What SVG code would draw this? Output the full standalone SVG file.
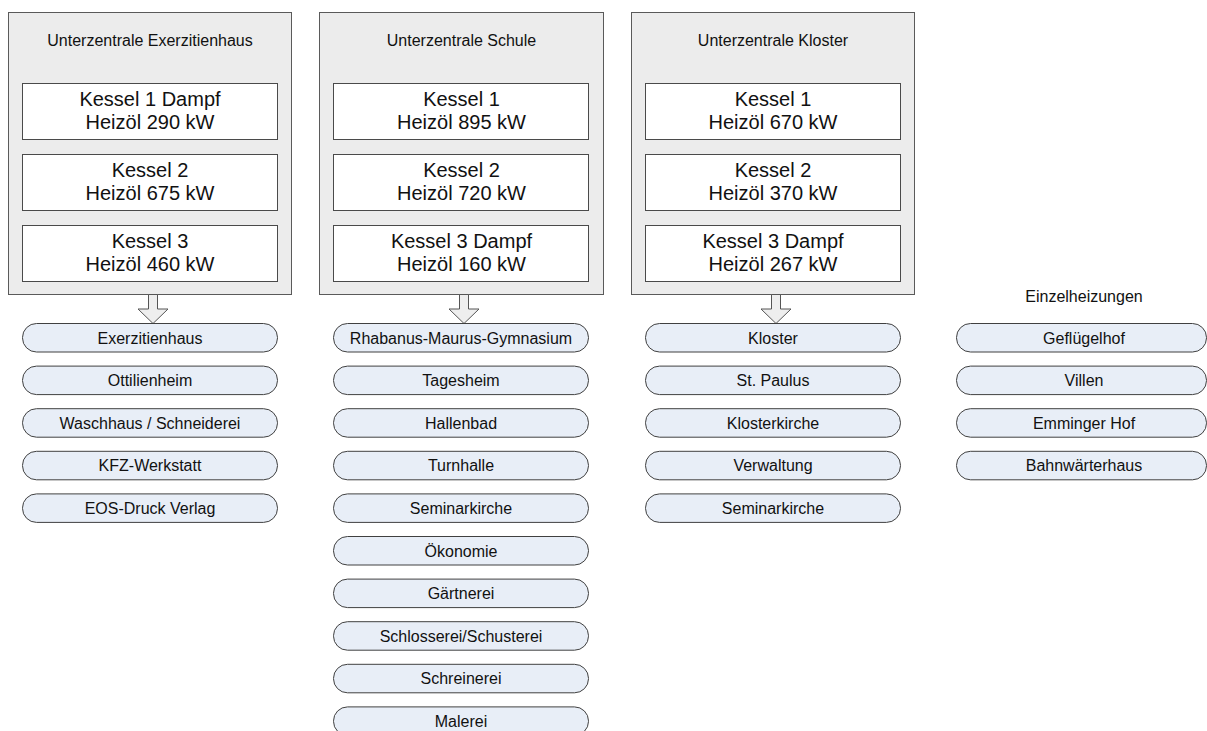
<svg xmlns="http://www.w3.org/2000/svg" width="1207" height="731" viewBox="0 0 1207 731">
<style>
.outer{fill:#ececec;stroke:#5a5a5a;stroke-width:1}
.kessel{fill:#ffffff;stroke:#4a4a4a;stroke-width:1}
.pill{fill:#e8eef7;stroke:#404040;stroke-width:1}
.arrow{fill:#eeeeee;stroke:#555555;stroke-width:1}
text{font-family:"Liberation Sans",Arial,sans-serif;fill:#111;text-anchor:middle}
.t16{font-size:16px}
.t20{font-size:20px}
</style>
<rect width="1207" height="731" fill="#ffffff"/>

<g id="unterzentrale-exerzitienhaus">
<rect class="outer" x="8.5" y="12.5" width="283" height="282"/>
<text class="t16" x="150" y="45.5">Unterzentrale Exerzitienhaus</text>
<rect class="kessel" x="22.5" y="83.5" width="255" height="56"/>
<text class="t20" x="150" y="106">Kessel 1 Dampf</text>
<text class="t20" x="150" y="129">Heizöl 290 kW</text>
<rect class="kessel" x="22.5" y="154.5" width="255" height="56"/>
<text class="t20" x="150" y="177">Kessel 2</text>
<text class="t20" x="150" y="200">Heizöl 675 kW</text>
<rect class="kessel" x="22.5" y="225.5" width="255" height="56"/>
<text class="t20" x="150" y="248">Kessel 3</text>
<text class="t20" x="150" y="271">Heizöl 460 kW</text>
</g>

<g id="unterzentrale-schule">
<rect class="outer" x="319.5" y="12.5" width="284" height="282"/>
<text class="t16" x="461.5" y="45.5">Unterzentrale Schule</text>
<rect class="kessel" x="333.5" y="83.5" width="255" height="56"/>
<text class="t20" x="461.5" y="106">Kessel 1</text>
<text class="t20" x="461.5" y="129">Heizöl 895 kW</text>
<rect class="kessel" x="333.5" y="154.5" width="255" height="56"/>
<text class="t20" x="461.5" y="177">Kessel 2</text>
<text class="t20" x="461.5" y="200">Heizöl 720 kW</text>
<rect class="kessel" x="333.5" y="225.5" width="255" height="56"/>
<text class="t20" x="461.5" y="248">Kessel 3 Dampf</text>
<text class="t20" x="461.5" y="271">Heizöl 160 kW</text>
</g>

<g id="unterzentrale-kloster">
<rect class="outer" x="631.5" y="12.5" width="283" height="282"/>
<text class="t16" x="773" y="45.5">Unterzentrale Kloster</text>
<rect class="kessel" x="645.5" y="83.5" width="255" height="56"/>
<text class="t20" x="773" y="106">Kessel 1</text>
<text class="t20" x="773" y="129">Heizöl 670 kW</text>
<rect class="kessel" x="645.5" y="154.5" width="255" height="56"/>
<text class="t20" x="773" y="177">Kessel 2</text>
<text class="t20" x="773" y="200">Heizöl 370 kW</text>
<rect class="kessel" x="645.5" y="225.5" width="255" height="56"/>
<text class="t20" x="773" y="248">Kessel 3 Dampf</text>
<text class="t20" x="773" y="271">Heizöl 267 kW</text>
</g>

<g id="connectors">
<path class="arrow" d="M148.5,294.5 L157.5,294.5 L157.5,309 L168,309 L153,323.5 L138,309 L148.5,309 Z"/>
<path class="arrow" d="M459.5,294.5 L468.5,294.5 L468.5,309 L479,309 L464,323.5 L449,309 L459.5,309 Z"/>
<path class="arrow" d="M771.5,294.5 L780.5,294.5 L780.5,309 L791,309 L776,323.5 L761,309 L771.5,309 Z"/>
</g>

<g id="verbraucher-exerzitienhaus">
<g id="p-exerzitienhaus"><rect class="pill" x="22.5" y="323.5" width="255" height="28.5" rx="14" ry="14"/><text class="t16" x="150" y="343.5">Exerzitienhaus</text></g>
<g id="p-ottilienheim"><rect class="pill" x="22.5" y="366.1" width="255" height="28.5" rx="14" ry="14"/><text class="t16" x="150" y="386.1">Ottilienheim</text></g>
<g id="p-waschhaus"><rect class="pill" x="22.5" y="408.7" width="255" height="28.5" rx="14" ry="14"/><text class="t16" x="150" y="428.7">Waschhaus / Schneiderei</text></g>
<g id="p-kfz"><rect class="pill" x="22.5" y="451.3" width="255" height="28.5" rx="14" ry="14"/><text class="t16" x="150" y="471.3">KFZ-Werkstatt</text></g>
<g id="p-eos"><rect class="pill" x="22.5" y="493.9" width="255" height="28.5" rx="14" ry="14"/><text class="t16" x="150" y="513.9">EOS-Druck Verlag</text></g>
</g>

<g id="verbraucher-schule">
<g id="p-rmg"><rect class="pill" x="333.5" y="323.5" width="255" height="28.5" rx="14" ry="14"/><text class="t16" x="461" y="343.5">Rhabanus-Maurus-Gymnasium</text></g>
<g id="p-tagesheim"><rect class="pill" x="333.5" y="366.1" width="255" height="28.5" rx="14" ry="14"/><text class="t16" x="461" y="386.1">Tagesheim</text></g>
<g id="p-hallenbad"><rect class="pill" x="333.5" y="408.7" width="255" height="28.5" rx="14" ry="14"/><text class="t16" x="461" y="428.7">Hallenbad</text></g>
<g id="p-turnhalle"><rect class="pill" x="333.5" y="451.3" width="255" height="28.5" rx="14" ry="14"/><text class="t16" x="461" y="471.3">Turnhalle</text></g>
<g id="p-seminarkirche-s"><rect class="pill" x="333.5" y="493.9" width="255" height="28.5" rx="14" ry="14"/><text class="t16" x="461" y="513.9">Seminarkirche</text></g>
<g id="p-oekonomie"><rect class="pill" x="333.5" y="536.5" width="255" height="28.5" rx="14" ry="14"/><text class="t16" x="461" y="556.5">Ökonomie</text></g>
<g id="p-gaertnerei"><rect class="pill" x="333.5" y="579.1" width="255" height="28.5" rx="14" ry="14"/><text class="t16" x="461" y="599.1">Gärtnerei</text></g>
<g id="p-schlosserei"><rect class="pill" x="333.5" y="621.7" width="255" height="28.5" rx="14" ry="14"/><text class="t16" x="461" y="641.7">Schlosserei/Schusterei</text></g>
<g id="p-schreinerei"><rect class="pill" x="333.5" y="664.3" width="255" height="28.5" rx="14" ry="14"/><text class="t16" x="461" y="684.3">Schreinerei</text></g>
<g id="p-malerei"><rect class="pill" x="333.5" y="706.9" width="255" height="28.5" rx="14" ry="14"/><text class="t16" x="461" y="726.9">Malerei</text></g>
</g>

<g id="verbraucher-kloster">
<g id="p-kloster"><rect class="pill" x="645.5" y="323.5" width="255" height="28.5" rx="14" ry="14"/><text class="t16" x="773" y="343.5">Kloster</text></g>
<g id="p-paulus"><rect class="pill" x="645.5" y="366.1" width="255" height="28.5" rx="14" ry="14"/><text class="t16" x="773" y="386.1">St. Paulus</text></g>
<g id="p-klosterkirche"><rect class="pill" x="645.5" y="408.7" width="255" height="28.5" rx="14" ry="14"/><text class="t16" x="773" y="428.7">Klosterkirche</text></g>
<g id="p-verwaltung"><rect class="pill" x="645.5" y="451.3" width="255" height="28.5" rx="14" ry="14"/><text class="t16" x="773" y="471.3">Verwaltung</text></g>
<g id="p-seminarkirche-k"><rect class="pill" x="645.5" y="493.9" width="255" height="28.5" rx="14" ry="14"/><text class="t16" x="773" y="513.9">Seminarkirche</text></g>
</g>

<g id="einzelheizungen">
<text class="t16" x="1084" y="302">Einzelheizungen</text>
<g id="p-gefluegelhof"><rect class="pill" x="956.5" y="323.5" width="250" height="28.5" rx="14" ry="14"/><text class="t16" x="1084" y="343.5">Geflügelhof</text></g>
<g id="p-villen"><rect class="pill" x="956.5" y="366.1" width="250" height="28.5" rx="14" ry="14"/><text class="t16" x="1084" y="386.1">Villen</text></g>
<g id="p-emminger"><rect class="pill" x="956.5" y="408.7" width="250" height="28.5" rx="14" ry="14"/><text class="t16" x="1084" y="428.7">Emminger Hof</text></g>
<g id="p-bahnwaerter"><rect class="pill" x="956.5" y="451.3" width="250" height="28.5" rx="14" ry="14"/><text class="t16" x="1084" y="471.3">Bahnwärterhaus</text></g>
</g>
</svg>
